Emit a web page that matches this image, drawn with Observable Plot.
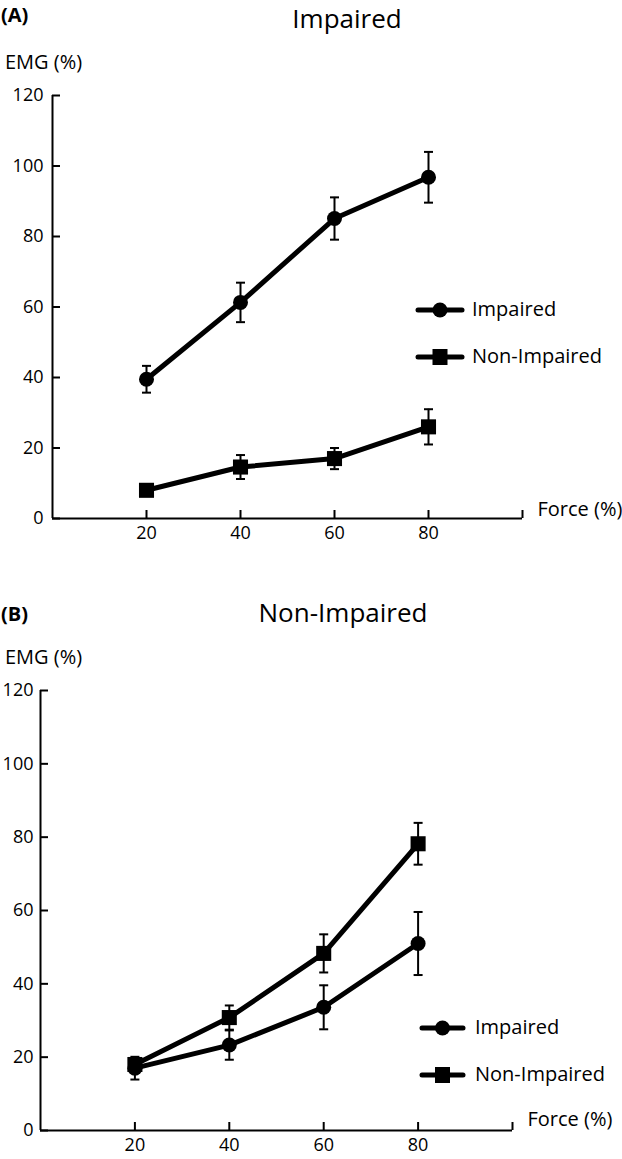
<!DOCTYPE html>
<html><head><meta charset="utf-8">
<script src="https://cdn.jsdelivr.net/npm/d3@7"></script>
<script src="https://cdn.jsdelivr.net/npm/@observablehq/plot@0.6"></script>
<style>
body{margin:0;background:#fff;}
#page{position:relative;width:622px;height:1159px;font-family:"Open Sans",sans-serif;color:#000;overflow:hidden;background:#fff}
.t{position:absolute;white-space:nowrap;line-height:1.4}
.p{position:absolute;left:0}
</style></head><body><div id="page"></div>
<script>
// ---- data ----
const force = [20, 40, 60, 80];
const xTicks = [20, 40, 60, 80, 100];
const yTicks = [0, 20, 40, 60, 80, 100, 120];
const seriesNames = ["Impaired", "Non-Impaired"];
const panelTitles = ["Impaired", "Non-Impaired"];
const panelLetters = ["(A)", "(B)"];
const yLabel = "EMG (%)";
const xLabel = "Force (%)";

// Panel A (Impaired side)
const aImpairedMean = [39.5, 61.3, 85.1, 96.8];
const aImpairedErr  = [3.8, 5.6, 6.0, 7.2];
const aNonImpMean   = [8.0, 14.6, 17.0, 26.0];
const aNonImpErr    = [1.2, 3.4, 3.0, 5.0];
// Panel B (Non-Impaired side)
const bImpairedMean = [17.0, 23.3, 33.6, 51.0];
const bImpairedErr  = [3.1, 4.0, 6.0, 8.6];
const bNonImpMean   = [18.0, 30.8, 48.3, 78.2];
const bNonImpErr    = [1.5, 3.3, 5.2, 5.7];

const page = document.getElementById("page");

function rows(means, errs, series) {
  return force.map((f, i) => ({force: f, mean: means[i], err: errs[i], series}));
}

const capSymbol = {draw(ctx) { ctx.moveTo(-4.5, 0); ctx.lineTo(4.5, 0); }};

function text(str, {left, cx, cy, size, bold = false}) {
  const d = document.createElement("div");
  d.className = "t";
  d.textContent = str;
  d.style.fontSize = size + "px";
  d.style.fontWeight = bold ? "700" : "400";
  d.style.top = Math.max(0, cy - 0.73 * size) + "px";
  if (cx != null) { d.style.left = cx + "px"; d.style.transform = "translateX(-50%)"; }
  else d.style.left = left + "px";
  page.appendChild(d);
}

function panel(cfg) {
  const imp = rows(cfg.impM, cfg.impE, seriesNames[0]);
  const non = rows(cfg.nonM, cfg.nonE, seriesNames[1]);
  const all = imp.concat(non);
  const chart = Plot.plot({
    width: 622, height: cfg.height,
    marginTop: cfg.mt, marginBottom: cfg.mb, marginLeft: cfg.ml, marginRight: cfg.mr,
    style: {fontFamily: "Open Sans", fontSize: "18px", color: "#000", background: "transparent", overflow: "visible"},
    x: {domain: [0, 100], axis: null},
    y: {domain: [0, 120], axis: null},
    marks: [
      Plot.ruleY([0], {stroke: "#000", strokeWidth: 2}),
      Plot.ruleX([0], {stroke: "#000", strokeWidth: 2}),
      Plot.axisX({ticks: xTicks, tickSize: 8, dy: -8, tickPadding: 8, strokeWidth: 2,
        tickFormat: d => d === 100 ? "" : d, fontSize: 18, label: null}),
      Plot.axisY({ticks: yTicks, tickSize: 8, dx: 8, tickPadding: cfg.tp, strokeWidth: 2,
        fontSize: 18, label: null}),
      Plot.text([xLabel], {text: d => d, frameAnchor: "bottom-right", textAnchor: "start",
        dx: 15, dy: cfg.fdy, fontSize: 20}),
      Plot.ruleX(all, {x: "force", y1: d => d.mean - d.err, y2: d => d.mean + d.err, stroke: "#000", strokeWidth: 2}),
      Plot.dot(all, {x: "force", y: d => d.mean + d.err, symbol: capSymbol, fill: "none", stroke: "#000", strokeWidth: 2}),
      Plot.dot(all, {x: "force", y: d => d.mean - d.err, symbol: capSymbol, fill: "none", stroke: "#000", strokeWidth: 2}),
      Plot.line(imp, {x: "force", y: "mean", stroke: "#000", strokeWidth: 5, strokeLinejoin: "round"}),
      Plot.line(non, {x: "force", y: "mean", stroke: "#000", strokeWidth: 5, strokeLinejoin: "round"}),
      Plot.dot(imp, {x: "force", y: "mean", symbol: "circle", r: 7.5, fill: "#000"}),
      Plot.dot(non, {x: "force", y: "mean", symbol: "square", r: 8.5, fill: "#000"})
    ]
  });
  chart.classList.add("p");
  chart.style.top = cfg.top + "px";
  page.appendChild(chart);

  // legend
  const lg = d3.create("svg").attr("width", 60).attr("height", 90)
    .style("position", "absolute").style("left", (cfg.lx1 - 5) + "px").style("top", (cfg.ly[0] - 20) + "px");
  seriesNames.forEach((name, i) => {
    const y = cfg.ly[i] - cfg.ly[0] + 20;
    lg.append("line").attr("x1", 5).attr("x2", 5 + cfg.lx2 - cfg.lx1).attr("y1", y).attr("y2", y)
      .attr("stroke", "#000").attr("stroke-width", 5).attr("stroke-linecap", "round");
    const cx = 5 + (cfg.lx2 - cfg.lx1) / 2;
    if (i === 0) lg.append("circle").attr("cx", cx).attr("cy", y).attr("r", 7.5).attr("fill", "#000");
    else lg.append("rect").attr("x", cx - 7.5).attr("y", y - 8).attr("width", 15).attr("height", 16).attr("fill", "#000");
    text(name, {left: cfg.ltx, cy: cfg.ly[i], size: 20});
  });
  page.appendChild(lg.node());
}

// Panel A
text(panelLetters[0], {left: 1, cy: 15.5, size: 20, bold: true});
text(panelTitles[0], {cx: 347, cy: 19, size: 26});
text(yLabel, {left: 5, cy: 62.5, size: 20});
panel({top: 80, height: 480, mt: 15, mb: 42, ml: 52, mr: 100, tp: 9, fdy: -3,
  impM: aImpairedMean, impE: aImpairedErr, nonM: aNonImpMean, nonE: aNonImpErr,
  lx1: 418, lx2: 462, ltx: 472, ly: [310, 357]});

// Panel B
text(panelLetters[1], {left: 1, cy: 615, size: 20, bold: true});
text(panelTitles[1], {cx: 343, cy: 613, size: 26});
text(yLabel, {left: 5, cy: 657.5, size: 20});
panel({top: 670, height: 489, mt: 20, mb: 29, ml: 40, mr: 110, tp: 7, fdy: -5,
  impM: bImpairedMean, impE: bImpairedErr, nonM: bNonImpMean, nonE: bNonImpErr,
  lx1: 422, lx2: 463, ltx: 475, ly: [1028, 1075]});
</script></body></html>
